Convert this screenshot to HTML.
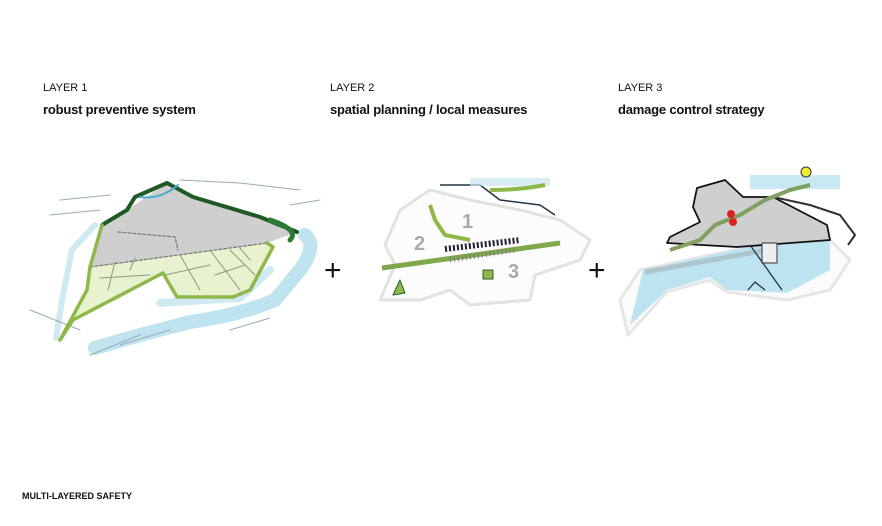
<!DOCTYPE html>
<html><head><meta charset="utf-8"><style>
body{margin:0;background:#fff;width:882px;height:526px;overflow:hidden;font-family:"Liberation Sans",sans-serif}
.t{position:absolute;color:#111}
.l{font-size:11px}
.b{font-size:13px;font-weight:bold;letter-spacing:-0.2px}
</style></head><body>
<div class="t l" style="left:43px;top:82px">LAYER 1</div>
<div class="t b" style="left:43px;top:102px">robust preventive system</div>
<div class="t l" style="left:330px;top:82px">LAYER 2</div>
<div class="t b" style="left:330px;top:102px">spatial planning / local measures</div>
<div class="t l" style="left:618px;top:82px">LAYER 3</div>
<div class="t b" style="left:618px;top:102px">damage control strategy</div>
<div class="t" style="left:22px;top:491px;font-size:9px;font-weight:bold">MULTI-LAYERED SAFETY</div>
<svg width="882" height="526" style="position:absolute;left:0;top:0">
<!-- Layer 1 -->
<g fill="none" stroke-linecap="round" stroke-linejoin="round">
<path d="M305,235 Q318,245 300,270 L275,300 Q240,315 190,322 L140,335 L95,348" stroke="#bfe3ef" stroke-width="14"/>
<path d="M160,303 Q200,300 240,298 L270,270" stroke="#cfeaf3" stroke-width="8"/>
<path d="M95,225 L72,250 L62,300 L56,338" stroke="#cfeaf3" stroke-width="6"/>
<path d="M60,200 L110,195 M50,215 L100,210 M180,180 L240,183 L300,190 M290,205 L320,200 M30,310 L80,330 M90,355 L140,335 M120,345 L170,330 M230,330 L270,318" stroke="#9ab" stroke-width="1"/>
<polygon points="102,225 127,210 167,183 193,197 260,217 297,232 267,243 90,267" fill="#cfcfcf" stroke="none"/>
<polygon points="90,267 267,243 273,247 250,290 233,297 177,297 163,273 73,320 60,340 87,290" fill="#e8f2cf" stroke="none"/>
<path d="M90,267 L267,243 M118,232 L175,237 L178,250" stroke="#777" stroke-width="1.2" stroke-dasharray="3,2"/>
<path d="M115,262 L108,290 M100,278 L150,275 M135,258 L130,270 M180,255 L200,290 M165,275 L210,265 M210,250 L240,290 M230,250 L255,275 M215,275 L245,265 M240,248 L250,260" stroke="#8a9a80" stroke-width="1"/>
<path d="M102,225 L127,210 L135,197 L167,183 L193,197 L260,217 L297,232" stroke="#1f5a25" stroke-width="4"/>
<path d="M267,243 L273,247 L250,290 L233,297 L177,297 L163,273 L73,320 L60,340 M102,225 L90,267 L87,290 L60,340" stroke="#8fb84a" stroke-width="3.5"/>
<path d="M270,220 Q300,230 290,240" stroke="#2d7a33" stroke-width="5"/>
<path d="M140,197 Q160,200 178,185" stroke="#44aacc" stroke-width="2"/>
</g>
<!-- plus -->
<text x="324" y="280" font-family="Liberation Sans" font-size="30" fill="#111">+</text>
<text x="588" y="280" font-family="Liberation Sans" font-size="30" fill="#111">+</text>
<!-- Layer 2 -->
<g fill="none" stroke-linejoin="round">
<polygon points="400,210 430,190 470,200 520,210 560,220 590,240 580,260 535,275 530,300 470,305 450,290 420,300 380,300 395,265 385,245" fill="#fcfcfc" stroke="#e2e2e2" stroke-width="3"/>
<path d="M440,185 L480,185 L500,200 L540,205 L555,215" stroke="#234" stroke-width="1.5"/>
<rect x="470" y="178" width="80" height="8" fill="#c8e6f0" opacity=".7"/>
<path d="M490,190 Q520,190 545,185" stroke="#8fb84a" stroke-width="4"/>
<path d="M430,205 L435,220 L445,235 L470,240" stroke="#8fb84a" stroke-width="4"/>
<path d="M382,268 L560,243" stroke="#7fa84a" stroke-width="5"/>
<path d="M445,249 L520,240" stroke="#223" stroke-width="6" stroke-dasharray="2,2"/>
<path d="M450,260 L515,250" stroke="#778" stroke-width="5" stroke-dasharray="1,3"/>
<polygon points="393,295 400,280 405,293" fill="#8fb84a" stroke="#2a5a2a"/>
<rect x="483" y="270" width="10" height="9" fill="#8fb84a" stroke="#2a5a2a"/>
<text x="462" y="228" font-family="Liberation Sans" font-size="20" font-weight="bold" fill="#aaa">1</text>
<text x="414" y="250" font-family="Liberation Sans" font-size="20" font-weight="bold" fill="#aaa">2</text>
<text x="508" y="278" font-family="Liberation Sans" font-size="20" font-weight="bold" fill="#aaa">3</text>
</g>
<!-- Layer 3 -->
<g fill="none" stroke-linejoin="round">
<polygon points="640,270 767,243 830,240 850,260 830,290 787,300 727,292 710,280 667,292 628,335 620,300" fill="#fbfbfb" stroke="#e6e6e6" stroke-width="3"/>
<polygon points="643,270 767,243 830,240 830,270 787,293 727,290 710,277 667,290 630,325" fill="#bde3f0"/>
<rect x="750" y="175" width="90" height="14" fill="#c8e8f3"/>
<polygon points="697,188 725,180 743,197 773,197 827,225 830,240 737,247 667,243 670,237 700,222 693,207" fill="#cfcfcf" stroke="#111" stroke-width="1.8"/>
<path d="M773,197 L810,205 L840,215 L855,235 L848,245" stroke="#333" stroke-width="2"/>
<path d="M645,272 L767,250" stroke="#999" stroke-width="5" stroke-opacity=".4"/>
<path d="M670,250 L700,240 L715,225 L740,215 L765,200 L790,190 L810,185" stroke="#7fa060" stroke-width="4"/>
<circle cx="731" cy="214" r="4" fill="#d22"/>
<circle cx="733" cy="222" r="4" fill="#d22"/>
<rect x="762" y="243" width="15" height="20" fill="#eee" stroke="#333"/>
<path d="M750,245 L782,290 M748,290 L755,282 L765,290" stroke="#234" stroke-width="1.3"/>
<circle cx="806" cy="172" r="5" fill="#ee3" stroke="#333"/>
</g>
</svg>
</body></html>
